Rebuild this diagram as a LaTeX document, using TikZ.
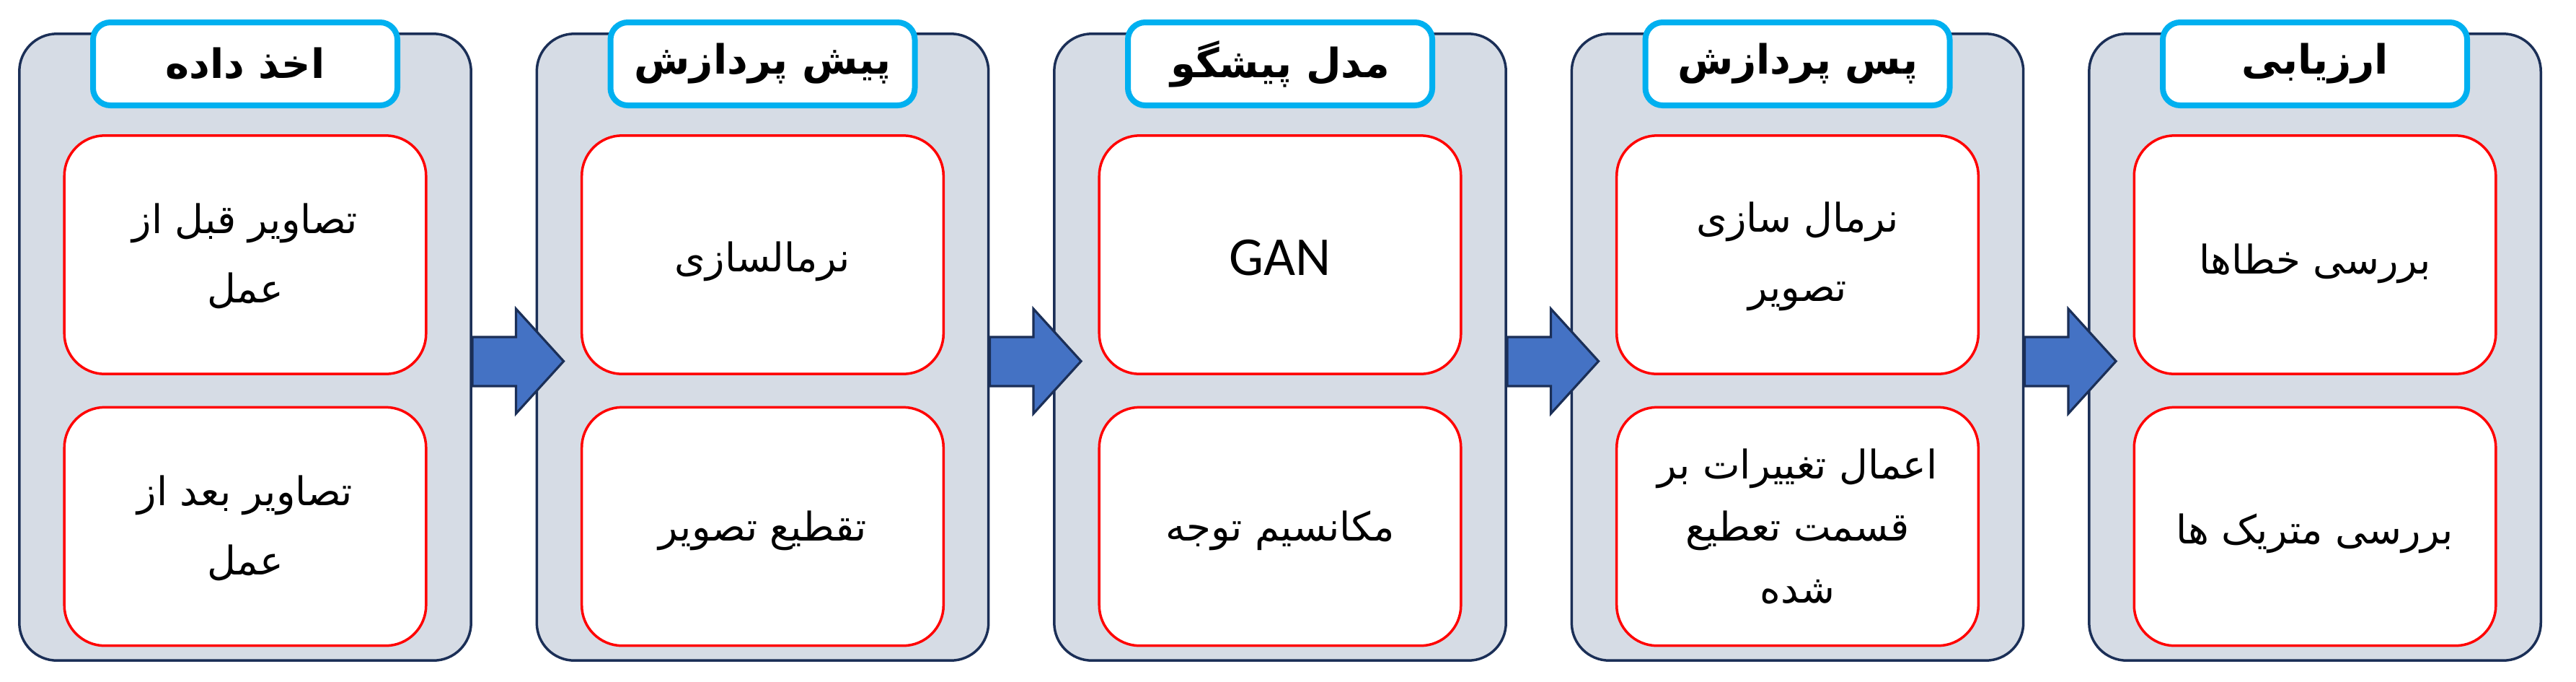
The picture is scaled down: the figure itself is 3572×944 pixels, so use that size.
\documentclass[tikz,border=0pt]{standalone}
\usepackage{fontspec}
\setmainfont{DejaVu Sans}
\newfontfamily\arabicfont[Script=Arabic]{DejaVu Sans}
\newfontfamily\latinfont{Carlito}
\TeXXeTstate=1
\usetikzlibrary{calc}
\definecolor{navyline}{HTML}{1B2F57}
\definecolor{stagefill}{HTML}{D6DCE5}
\definecolor{headcyan}{HTML}{00B0F0}
\definecolor{arrowblue}{HTML}{4472C4}
\definecolor{itemred}{HTML}{FF0000}
\newcommand{\fa}[1]{{\arabicfont\beginR #1\endR}}
\begin{document}
\begin{tikzpicture}[x=0.25pt,y=-0.25pt,
  stage/.style={draw=navyline, fill=stagefill, line width=0.875pt, rounded corners=13pt,
    minimum width=156.6pt, minimum height=217.1pt, inner sep=0pt},
  header/.style={draw=headcyan, fill=white, line width=2pt, rounded corners=6pt,
    minimum width=105.5pt, minimum height=28.75pt, inner sep=0pt,
    font=\arabicfont\bfseries\fontsize{14pt}{17pt}\selectfont},
  item/.style={draw=itemred, fill=white, line width=0.875pt, rounded corners=14pt,
    minimum width=125.4pt, minimum height=82.6pt, inner sep=0pt},
  itemtext/.style={inner sep=0pt, align=center,
    font=\fontsize{13.7pt}{21.5pt}\selectfont},
  twoline/.style={font=\fontsize{13.7pt}{24pt}\selectfont},
  flowarrow/.style={draw=navyline, fill=arrowblue, line width=0.8pt, line join=miter}]
\useasboundingbox (0,0) rectangle (3572,944);
% stages
\foreach \i in {1,...,5}{
  \node[stage] (s\i) at ({340+717.5*(\i-1)},481) {};
}
% arrows
\foreach \i/\j in {1/2,2/3,3/4,4/5}{
  \draw[flowarrow] ($(s\i.east)+(0,-14)$) -- ($(s\j.west)+(-27,-14)$)
    -- ($(s\j.west)+(-27,-53)$) -- ($(s\j.west)+(39,19.5)$)
    -- ($(s\j.west)+(-27,92)$) -- ($(s\j.west)+(-27,54)$)
    -- ($(s\i.east)+(0,54)$) -- cycle;
}
% headers
\node[header] (h1) at (340,88.5) {\fa{اخذ داده}};
\node[header] (h2) at (1057.5,88.5) {\fa{پیش پردازش}};
\node[header] (h3) at (1775,88.5) {\fa{مدل پیشگو}};
\node[header] (h4) at (2492.5,88.5) {\fa{پس پردازش}};
\node[header] (h5) at (3210,88.5) {\fa{ارزیابی}};
% item boxes
\foreach \i in {1,...,5}{
  \node[item] (a\i) at ({340+717.5*(\i-1)},353) {};
  \node[item] (b\i) at ({340+717.5*(\i-1)},729.5) {};
}
% item texts
\node[itemtext,twoline] (ta1) at ($(a1.center)+(0,2)$) {\fa{تصاویر قبل از}\\\fa{عمل}};
\node[itemtext,twoline] (tb1) at ($(b1.center)+(0,2)$) {\fa{تصاویر بعد از}\\\fa{عمل}};
\node[itemtext] (ta2) at ($(a2.center)+(0,9)$) {\fa{نرمالسازی}};
\node[itemtext] (tb2) at ($(b2.center)+(0,6)$) {\fa{تقطیع تصویر}};
\node[itemtext] (ta3) at ($(a3.center)+(0,4)$) {\latinfont\fontsize{19pt}{22pt}\selectfont GAN};
\node[itemtext] (tb3) at ($(b3.center)+(0,6)$) {\fa{مکانسیم توجه}};
\node[itemtext,twoline] (ta4) at ($(a4.center)+(0,2)$) {\fa{نرمال سازی}\\\fa{تصویر}};
\node[itemtext] (tb4) at ($(b4.center)+(0,0)$) {\fa{اعمال تغییرات بر}\\\fa{قسمت تعطیع}\\\fa{شده}};
\node[itemtext] (ta5) at ($(a5.center)+(0,12)$) {\fa{بررسی خطاها}};
\node[itemtext] (tb5) at ($(b5.center)+(0,10)$) {\fa{بررسی متریک ها}};
\end{tikzpicture}
\end{document}
